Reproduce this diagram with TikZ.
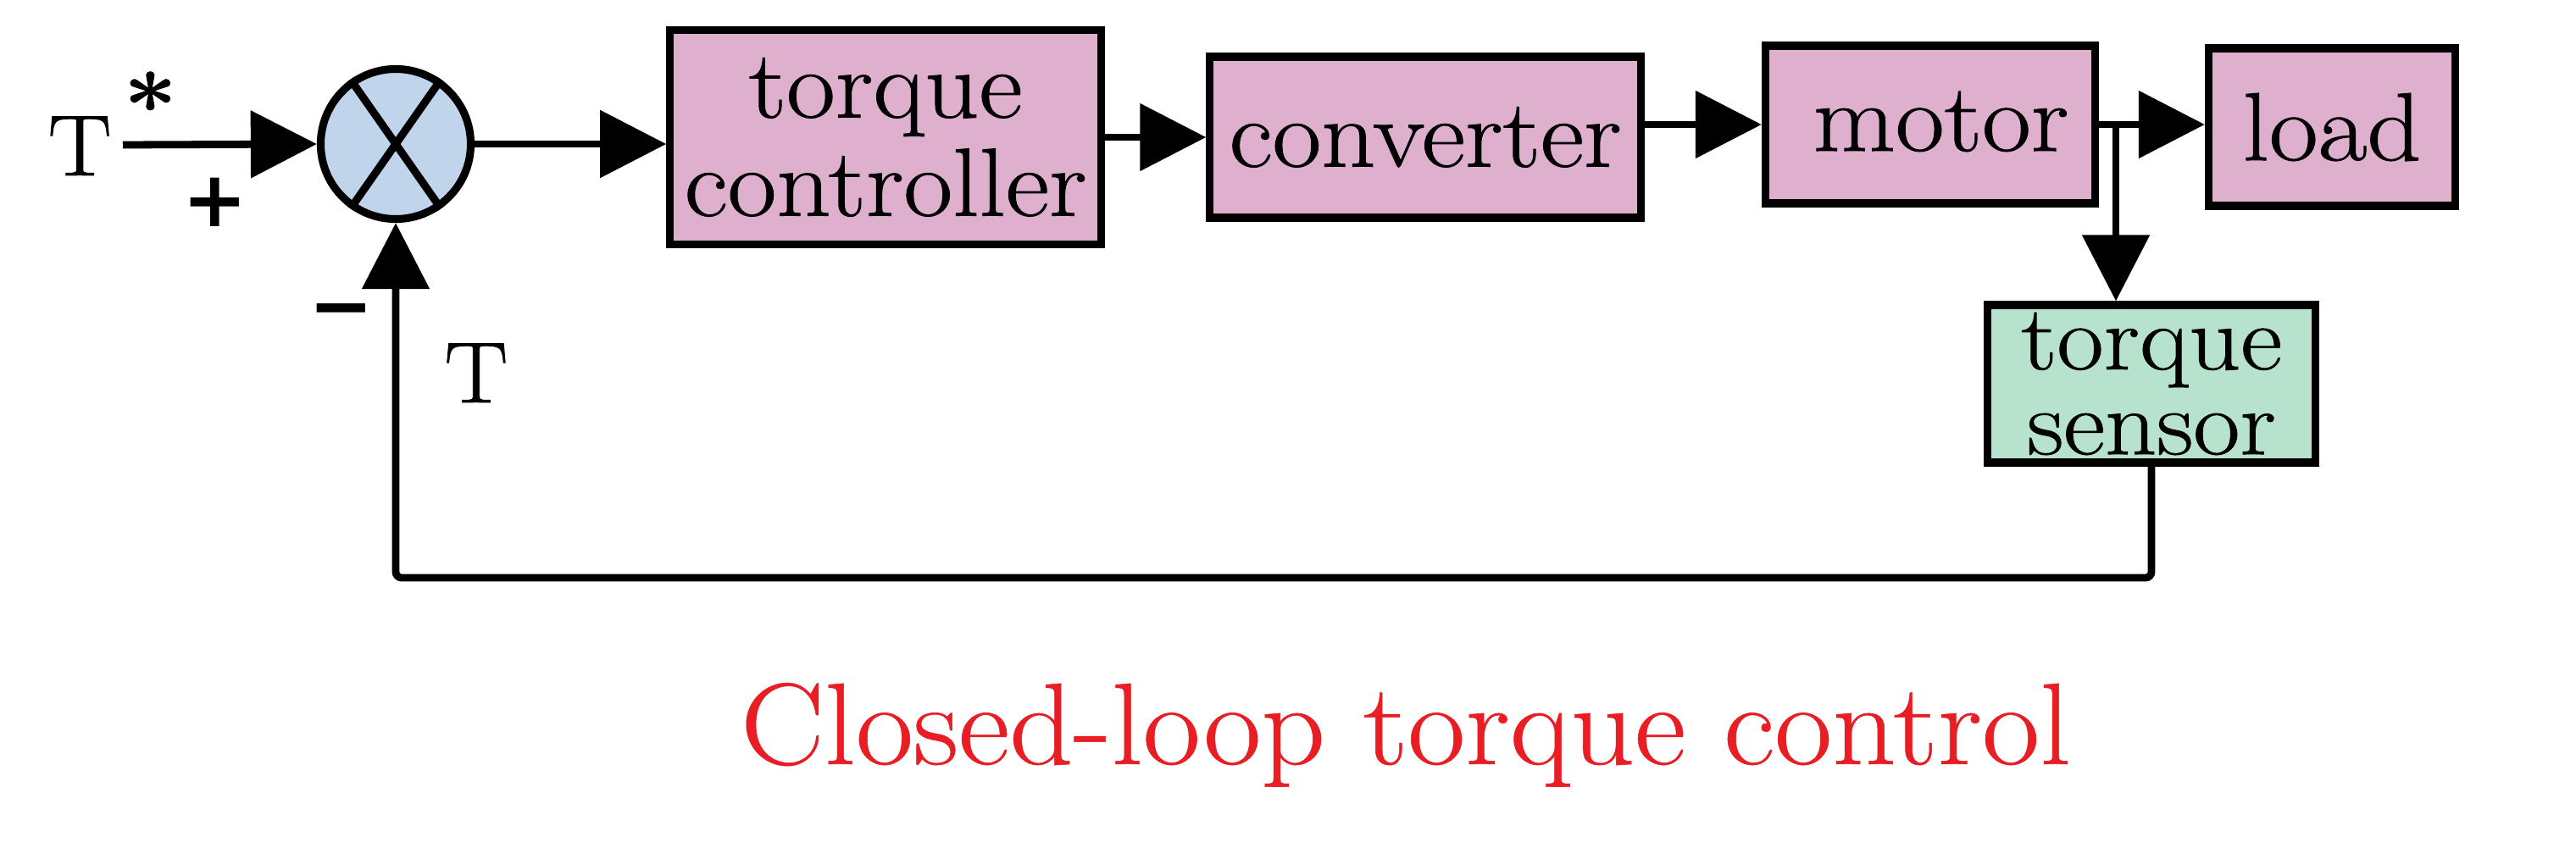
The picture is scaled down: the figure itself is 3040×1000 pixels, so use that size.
\documentclass[tikz,border=0pt]{standalone}
\usepackage{fontspec}
\setmainfont{Latin Modern Roman}[FakeStretch=1.1, FakeBold=0.8]
\newfontfamily\capfont{Latin Modern Roman}[FakeStretch=1.08, FakeBold=0.4]
\newfontfamily\signfont{DejaVu Sans}
\usetikzlibrary{arrows.meta,calc}
\definecolor{boxpink}{RGB}{222,176,206}
\definecolor{boxgreen}{RGB}{182,226,206}
\definecolor{sumblue}{RGB}{192,212,236}
\definecolor{captionred}{RGB}{232,30,36}
\begin{document}
\begin{tikzpicture}[x=0.01cm,y=-0.01cm,
  blk/.style={draw=black, line width=2.6pt, inner sep=0pt, align=center,
    font=\fontsize{32.5}{33}\selectfont},
  sumnode/.style={circle, draw=black, fill=sumblue, line width=2.6pt, minimum size=1.77cm, inner sep=0pt},
  arr/.style={-{Triangle[length=0.78cm,width=0.78cm]}, line width=2.5pt},
  lbl/.style={inner sep=0pt, font=\fontsize{29}{30}\selectfont},
  sign/.style={inner sep=0pt, font=\signfont\bfseries\fontsize{26}{26}\selectfont}]
\useasboundingbox (0,0) rectangle (3040,1000);

% blocks
\node[sumnode] (sum) at (467,170) {};
\draw[line width=2.6pt] (sum.125) -- (sum.305) (sum.55) -- (sum.235);
\node[blk, fill=boxpink, minimum width=5.08cm, minimum height=2.53cm] (tc) at (1045,162) {torque\\controller};
\node[blk, fill=boxpink, minimum width=5.08cm, minimum height=1.90cm] (conv) at (1682,162) {converter};
\node[blk, fill=boxpink, minimum width=3.89cm, minimum height=1.86cm] (motor) at (2278,147) {\hspace*{0.25cm}\raisebox{0.08cm}{motor}};
\node[blk, fill=boxpink, minimum width=2.91cm, minimum height=1.86cm] (load) at (2752,150) {load};
\node[blk, fill=boxgreen, minimum width=3.87cm, minimum height=1.86cm,
  font=\fontsize{31}{28.5}\selectfont] (sensor) at (2539,453) {torque\\sensor};

% coordinates
\coordinate (in) at (145,171);
\coordinate (br) at (2497,147);
\coordinate (fb) at (0,682);

% connectors
\draw[arr] (in) -- (sum.west);
\draw[arr] (sum.east) -- (sum.east -| tc.west);
\draw[arr] (tc.east) -- (conv.west);
\draw[arr] (conv.east |- motor.west) -- (motor.west);
\draw[arr] (motor.east) -- (motor.east -| load.west);
\draw[arr] (br) -- (br |- sensor.north);
\draw[arr, rounded corners=2pt] (sensor.south) -- (sensor.south |- fb) -- (sum.south |- fb) -- (sum.south);

% labels
\node[lbl, anchor=base west] (tstar) at (56,207) {T\raisebox{0.45em}{\kern0.14em\bfseries *}};
\node[sign] (plus) at (254,239) {+};
\node[sign] (minus) at (403,376) {−};
\node[lbl, anchor=base] (tfb) at (562,475) {T};
\node[anchor=base, inner sep=0pt, text=captionred, font=\capfont\fontsize{39}{40}\selectfont] (cap) at (1659,902) {Closed-loop torque control};
\end{tikzpicture}
\end{document}
